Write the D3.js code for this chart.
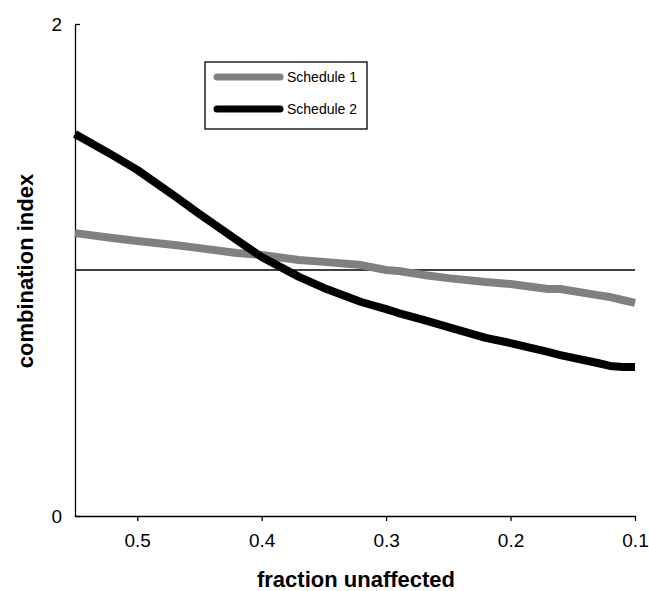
<!DOCTYPE html>
<html>
<head>
<meta charset="utf-8">
<script src="https://cdn.jsdelivr.net/npm/d3@7"></script>
<style>
  body { margin: 0; background: #fff; }
  text { font-family: "Liberation Sans", Arial, sans-serif; }
</style>
</head>
<body>
<div id="chart"></div>
<script>
// fraction unaffected (x) and combination index for each schedule
const fu = [0.55, 0.52, 0.50, 0.47, 0.45, 0.42, 0.40, 0.37, 0.35, 0.32, 0.30,
            0.29, 0.27, 0.25, 0.22, 0.20, 0.17, 0.16, 0.13, 0.12, 0.11, 0.10];
const schedule1 = [1.150, 1.130, 1.118, 1.102, 1.089, 1.069, 1.061, 1.041, 1.033, 1.020, 1.000,
                   0.996, 0.980, 0.967, 0.951, 0.943, 0.923, 0.923, 0.898, 0.890, 0.878, 0.866];
const schedule2 = [1.553, 1.467, 1.407, 1.301, 1.228, 1.122, 1.053, 0.972, 0.927, 0.870, 0.841,
                   0.825, 0.797, 0.768, 0.724, 0.703, 0.667, 0.654, 0.622, 0.610, 0.606, 0.606];
const seriesNames = ["Schedule 1", "Schedule 2"];
const seriesColors = ["#808080", "#000000"];
const xTicks = [0.5, 0.4, 0.3, 0.2, 0.1];
const yTicks = [0, 2];

const width = 649, height = 591;
const margin = {top: 24, right: 14, bottom: 75, left: 75};

const svg = d3.select("#chart").append("svg")
  .attr("width", width)
  .attr("height", height);

const x = d3.scaleLinear().domain([0.55, 0.1]).range([margin.left, width - margin.right]);
const y = d3.scaleLinear().domain([0, 2]).range([height - margin.bottom, margin.top]);

// reference line at CI = 1
svg.append("line")
  .attr("x1", x(0.55)).attr("x2", x(0.1))
  .attr("y1", y(1)).attr("y2", y(1))
  .attr("stroke", "#000").attr("stroke-width", 1.3);

const xAxis = svg.append("g")
  .attr("transform", `translate(0,${y(0)})`)
  .call(d3.axisBottom(x).tickValues(xTicks).tickFormat(d3.format(".1f"))
    .tickSizeInner(5).tickSizeOuter(0).tickPadding(13));

const yAxis = svg.append("g")
  .attr("transform", `translate(${x(0.55)},0)`)
  .call(d3.axisLeft(y).tickValues(yTicks).tickFormat(d3.format("d"))
    .tickSizeInner(-5).tickSizeOuter(0).tickPadding(13));

[xAxis, yAxis].forEach(g => {
  g.selectAll("text").attr("font-size", 19).attr("fill", "#000")
    .attr("font-family", "'Liberation Sans', Arial, sans-serif");
  g.selectAll("line, path").attr("stroke", "#000").attr("stroke-width", 1.3);
});

const line = d3.line()
  .x((d, i) => x(fu[i]))
  .y(d => y(d));

[schedule1, schedule2].forEach((s, i) => {
  svg.append("path")
    .datum(s)
    .attr("fill", "none")
    .attr("stroke", seriesColors[i])
    .attr("stroke-width", 8)
    .attr("stroke-linejoin", "round")
    .attr("d", line);
});

// legend
const legend = svg.append("g").attr("transform", "translate(205,62)");
legend.append("rect")
  .attr("width", 162).attr("height", 67)
  .attr("fill", "#fff").attr("stroke", "#000").attr("stroke-width", 1.3);
seriesNames.forEach((name, i) => {
  const ly = 15 + i * 32;
  legend.append("line")
    .attr("x1", 12).attr("x2", 75).attr("y1", ly).attr("y2", ly)
    .attr("stroke", seriesColors[i]).attr("stroke-width", 7)
    .attr("stroke-linecap", "round");
  legend.append("text")
    .attr("x", 82).attr("y", ly + 5)
    .attr("font-size", 14)
    .text(name);
});

// axis titles
svg.append("text")
  .attr("x", 356).attr("y", 587)
  .attr("text-anchor", "middle")
  .attr("font-size", 22).attr("font-weight", "bold")
  .text("fraction unaffected");

svg.append("text")
  .attr("transform", "translate(33,271) rotate(-90)")
  .attr("text-anchor", "middle")
  .attr("font-size", 22).attr("font-weight", "bold")
  .text("combination index");
</script>
</body>
</html>
